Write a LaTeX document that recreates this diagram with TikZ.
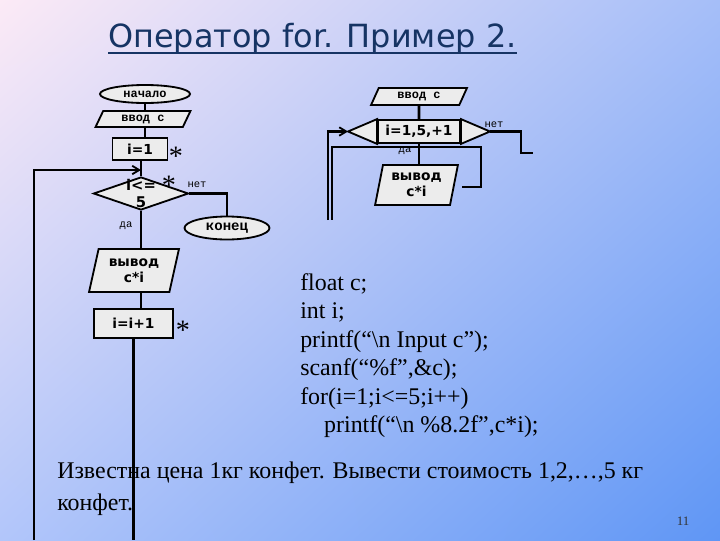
\documentclass[tikz,border=0pt]{standalone}
\usepackage{fontspec}
\setmainfont{Liberation Serif}
\newfontfamily\sansfnt{DejaVu Sans}
\newfontfamily\monofnt{Liberation Mono}
\usetikzlibrary{shapes.geometric,arrows.meta,shadings}

\definecolor{bgtl}{RGB}{252,234,246}
\definecolor{bgtr}{RGB}{165,190,248}
\definecolor{bgbl}{RGB}{178,198,250}
\definecolor{bgbr}{RGB}{95,150,245}
\definecolor{titleblue}{RGB}{22,52,100}
\definecolor{boxgray}{RGB}{236,236,236}

\newcommand{\pxu}{0.025cm}
\newcommand{\boxfnt}{\sansfnt\bfseries\fontsize{9.8}{11.3}\selectfont}
\newcommand{\termfnt}{\monofnt\bfseries\fontsize{8.5}{10}\selectfont}
\newcommand{\notefnt}{\monofnt\fontsize{7.5}{9}\selectfont}
\newcommand{\starfnt}{\fontsize{20}{20}\selectfont}

\begin{document}
\begin{tikzpicture}[x=0.025cm,y=-0.025cm,
  flow/.style={line width=1.8pt},
  arr/.style={-{Straight Barb[length=5pt,width=6pt,line width=1.3pt]}},
  box/.style={draw,fill=boxgray,line width=1.3pt,inner sep=0pt},
  proc/.style={box,rectangle,font=\boxfnt},
  term/.style={box,ellipse,font=\termfnt},
  io/.style={box,trapezium,trapezium stretches=true,align=center},
  hexside/.style={draw,fill=boxgray,line width=1.3pt},
  note/.style={inner sep=0pt,font=\notefnt},
  star/.style={inner sep=0pt,anchor=base,font=\starfnt}]
\useasboundingbox (0,0) rectangle (720,540);
\shade[upper left=bgtl,upper right=bgtr,lower left=bgbl,lower right=bgbr] (0,0) rectangle (720,540);

% title
\node[anchor=base west,inner sep=0pt,text=titleblue,font=\sansfnt\fontsize{22.7}{26}\selectfont] (title) at (108,47) {Оператор for. Пример 2.};
\draw[titleblue,line width=1.3pt] ([yshift=-0.15cm]title.base west) -- ([yshift=-0.15cm]title.base east);

% texts
\node[anchor=north west,inner sep=0pt,align=left,font=\fontsize{17}{20.3}\selectfont] (code) at (300,273)
  {float c;\\ int i;\\ printf(“\textbackslash n Input c”);\\ scanf(“\%f”,\&c);\\ for(i=1;i<=5;i++)\\ \hspace*{17pt}printf(“\textbackslash n \%8.2f”,c*i);};
\node[anchor=north west,inner sep=0pt,align=left,font=\fontsize{17}{22.7}\selectfont] (task) at (57,462)
  {Известна цена 1кг конфет. Вывести стоимость 1,2,…,5 кг\\ конфет.};
\node[inner sep=0pt,text=black!80,font=\fontsize{9.2}{11}\selectfont] (pagenum) at (683,521) {11};

% left chart
\node[term,minimum width=90*\pxu,minimum height=18*\pxu] (start) at (145,94) {начало};
\node[io,font=\termfnt,trapezium left angle=65,trapezium right angle=115,minimum width=95*\pxu,minimum height=16*\pxu] (in1) at (143,119) {ввод с};
\node[proc,minimum width=55*\pxu,minimum height=22*\pxu] (init) at (140,149) {i=1};
\node[box,diamond,minimum width=95*\pxu,minimum height=33*\pxu] (cond) at (141,193.5) {};
\node[inner sep=0pt,align=center,font=\sansfnt\bfseries\fontsize{10.5}{11.5}\selectfont] (condtxt) at (cond.center) {i<=\\5};
\node[term,font=\monofnt\bfseries\fontsize{10}{12}\selectfont,minimum width=85*\pxu,minimum height=23*\pxu] (stop) at (227,228) {конец};
\node[io,font=\boxfnt,trapezium left angle=74,trapezium right angle=106,minimum width=90*\pxu,minimum height=43*\pxu] (out1) at (134,270.5) {вывод\\с*i};
\node[proc,minimum width=79*\pxu,minimum height=29*\pxu] (inc) at (133.5,323.5) {i=i+1};

\node[note] (no1) at (197,185) {нет};
\node[note] (yes1) at (126,226) {да};
\node[star] (st1) at (176,165) {*};
\node[star] (st2) at (169,194) {*};
\node[star] (st3) at (183,339) {*};

\coordinate (entryL) at (141,170);
\coordinate (backL) at (34,540);
\coordinate (exitL) at (133.5,540);

\draw[flow] (start.south) -- (start.south |- in1.north);
\draw[flow] (in1.south -| start.south) -- (init.north -| start.south);
\draw[flow] (init.south -| cond.north) -- (cond.north);
\draw[flow,arr] (backL) |- (entryL);
\draw[flow] (cond.east) -| (stop.north);
\draw[flow] (cond.south) -- (cond.south |- out1.north);
\draw[flow] (out1.south -| cond.south) -- (inc.north -| cond.south);
\draw[flow] (inc.south) -- (exitL);

% right chart
\node[io,font=\termfnt,trapezium left angle=65,trapezium right angle=115,minimum width=96*\pxu,minimum height=17*\pxu] (in2) at (419,96.5) {ввод с};
\node[proc,minimum width=82*\pxu,minimum height=23*\pxu] (loop) at (419,131.5) {i=1,5,+1};
\coordinate (tipL) at (348,131.5);
\coordinate (tipR) at (490,131.5);
\filldraw[hexside] (loop.north west) -- (tipL) -- (loop.south west) -- cycle;
\filldraw[hexside] (loop.north east) -- (tipR) -- (loop.south east) -- cycle;
\node[io,font=\boxfnt,trapezium left angle=76,trapezium right angle=104,minimum width=83*\pxu,minimum height=40*\pxu] (out2) at (416.5,185) {вывод\\с*i};

\node[note] (no2) at (494,125) {нет};
\node[note] (yes2) at (405,151) {да};

\coordinate (backR) at (328,220);
\coordinate (retR) at (332,220);
\coordinate (turnR) at (481,147);
\coordinate (outR) at (462,187);
\coordinate (stepR) at (521,153);
\coordinate (exitR) at (533,153);

\draw[flow] (in2.south) -- (loop.north);
\draw[flow] (loop.south) -- (loop.south |- out2.north);
\draw[flow,arr] (backR) |- (tipL);
\draw[flow] (outR) -| (turnR) -| (retR);
\draw[flow] (tipR) -| (stepR) -- (exitR);
\end{tikzpicture}
\end{document}
